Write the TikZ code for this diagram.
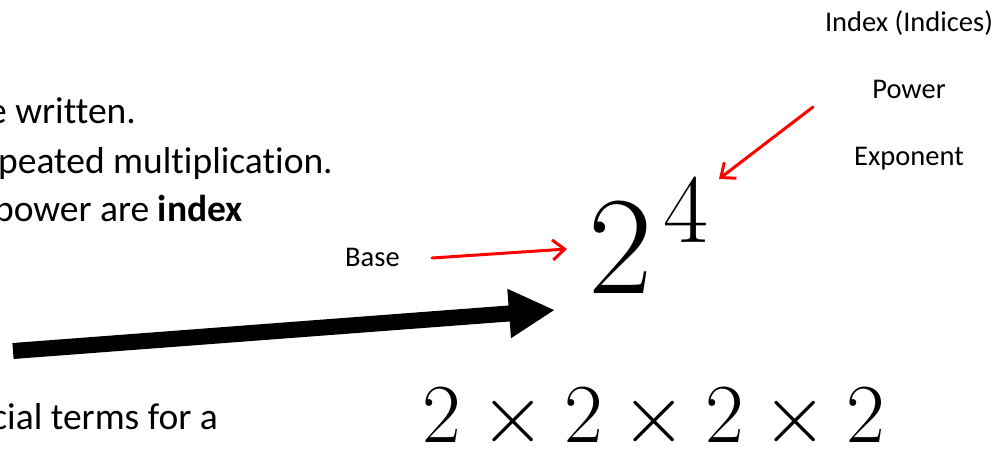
\RequirePackage{fix-cm}
\documentclass[tikz,border=0pt]{standalone}
\usepackage[no-math]{fontspec}
\setmainfont{Carlito}[Ligatures=NoCommon]
\usetikzlibrary{arrows.meta, positioning, calc}
\definecolor{PointerRed}{RGB}{255, 0, 0}

\begin{document}
\begin{tikzpicture}[x=1pt, y=-1pt,
    slidetext/.style={font=\fontsize{37.5}{45}\selectfont, inner sep=0pt, anchor=base east},
    termtext/.style={font=\fontsize{28.5}{34}\selectfont, inner sep=0pt, anchor=base},
    pointer/.style={color=PointerRed, line width=3pt, line cap=round, -{Straight Barb[length=12pt, width=20pt]}},
    bigarrow/.style={line width=16pt, -{Triangle[length=46pt, width=46pt]}}]
    \useasboundingbox (0,0) rectangle (1005,450);
    \clip (0,0) rectangle (1005,450);

    % text running off the left edge
    \node[slidetext] (lineA) at (136,123) {e written.};
    \node[slidetext] (lineB) at (333,173) {peated multiplication.};
    \node[slidetext] (lineC) at (243,221) {power are \textbf{index}};
    \node[slidetext] (lineD) at (218,429) {cial terms for a};

    % the names of the parts
    \node[termtext] (index) at (909,31) {Index (Indices)};
    \node[termtext] (power) at (909,98) {Power};
    \node[termtext] (expo) at (909,165) {Exponent};
    \node[termtext, anchor=base west] (base) at (345,266) {Base};

    % the power and its product
    \node[inner sep=0pt, anchor=base west, font=\fontsize{140}{150}\selectfont] (pow) at (588,293) {$2^{\mkern2mu 4}$};
    \node[inner sep=0pt, anchor=base, font=\fontsize{84}{94}\selectfont] (prod) at (654,442) {$2\times2\times2\times2$};

    % arrows
    \coordinate (powTail) at (813,107);
    \coordinate (powHead) at (719,179);
    \coordinate (baseTail) at (432,258);
    \coordinate (baseHead) at (567,249);
    \coordinate (bigTail) at (13,351);
    \coordinate (bigHead) at (555,310);
    \draw[pointer] (powTail) -- (powHead);
    \draw[pointer] (baseTail) -- (baseHead);
    \draw[bigarrow] (bigTail) -- (bigHead);
\end{tikzpicture}
\end{document}
